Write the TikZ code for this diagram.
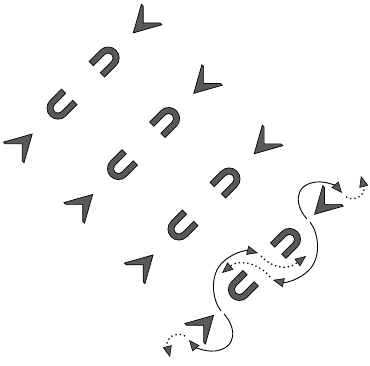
\documentclass[tikz,border=0pt]{standalone}
\usetikzlibrary{arrows.meta}

\begin{document}
\begin{tikzpicture}[x=1pt,y=1pt,
  base/.style={fill=black!65, draw=black, line width=0.7pt, line join=miter},
  vee/.pic={\filldraw[base] (0,-13) -- (14.5,13) -- (12,13) -- (0,1) -- (-12,13) -- (-14.5,13) -- cycle;},
  shoe/.pic={\filldraw[base] (-11,13.5) -- (-11,-2.5) arc[start angle=180,end angle=360,radius=11] -- (11,13.5) -- (5,13.5) -- (5,-2.5) arc[start angle=0,end angle=-180,radius=5] -- (-5,13.5) -- cycle;},
  head/.tip={Triangle[length=11pt,width=9pt,line width=0.6pt,fill=black!65]},
  twist/.style={black, line width=0.9pt, -head},
  hop/.style={black, line width=1.3pt, dash pattern=on 1.3pt off 3pt, -head}]
\useasboundingbox (0,-366) rectangle (370,0);
\begin{scope}[rotate=-45, transform shape]
\pic at (117.5,84) {vee};
\pic[rotate=180] at (117.5,33) {shoe};
\pic at (117.5,-33) {shoe};
\pic[rotate=180] at (117.5,-85) {vee};
\pic at (203,84) {vee};
\pic[rotate=180] at (203,33) {shoe};
\pic at (203,-33) {shoe};
\pic[rotate=180] at (203,-85) {vee};
\pic at (288.5,84) {vee};
\pic[rotate=180] at (288.5,33) {shoe};
\pic at (288.5,-33) {shoe};
\pic[rotate=180] at (288.5,-85) {vee};
\pic at (374,84) {vee};
\pic[rotate=180] at (374,33) {shoe};
\pic at (374,-33) {shoe};
\pic[rotate=180] at (374,-85) {vee};
\end{scope}
\coordinate (a1) at (307,-219);
\coordinate (a2) at (310,-222);
\coordinate (b1) at (224,-314);
\coordinate (b2) at (221,-311);
\coordinate (ta) at (342,-193);
\coordinate (tb) at (273,-280);
\coordinate (tc) at (189,-340);
\coordinate (td) at (258,-253);
\coordinate (ea) at (361,-176);
\coordinate (eb) at (222,-273);
\coordinate (ec) at (170,-357);
\coordinate (ed) at (306,-256);
\draw[twist] (a1) .. controls (295,-206) and (293,-185) .. (316,-182) .. controls (328,-181) and (337,-187) .. (ta);
\draw[twist] (a2) .. controls (318,-232) and (322,-255) .. (310,-269) .. controls (300,-280) and (285,-283) .. (tb);
\draw[twist] (b1) .. controls (236,-327) and (238,-348) .. (215,-351) .. controls (203,-352) and (194,-346) .. (tc);
\draw[twist] (b2) .. controls (213,-301) and (209,-278) .. (221,-264) .. controls (231,-253) and (246,-250) .. (td);
\draw[hop] ([shift={(4,-4)}]ta) .. controls (355,-202) and (366,-195) .. (ea);
\draw[hop] ([shift={(-3,3)}]tb) .. controls (261,-265) and (240,-258) .. (eb);
\draw[hop] ([shift={(-4,4)}]tc) .. controls (176,-331) and (165,-338) .. (ec);
\draw[hop] ([shift={(3,-3)}]td) .. controls (270,-266) and (285,-272) .. (ed);
\end{tikzpicture}
\end{document}
